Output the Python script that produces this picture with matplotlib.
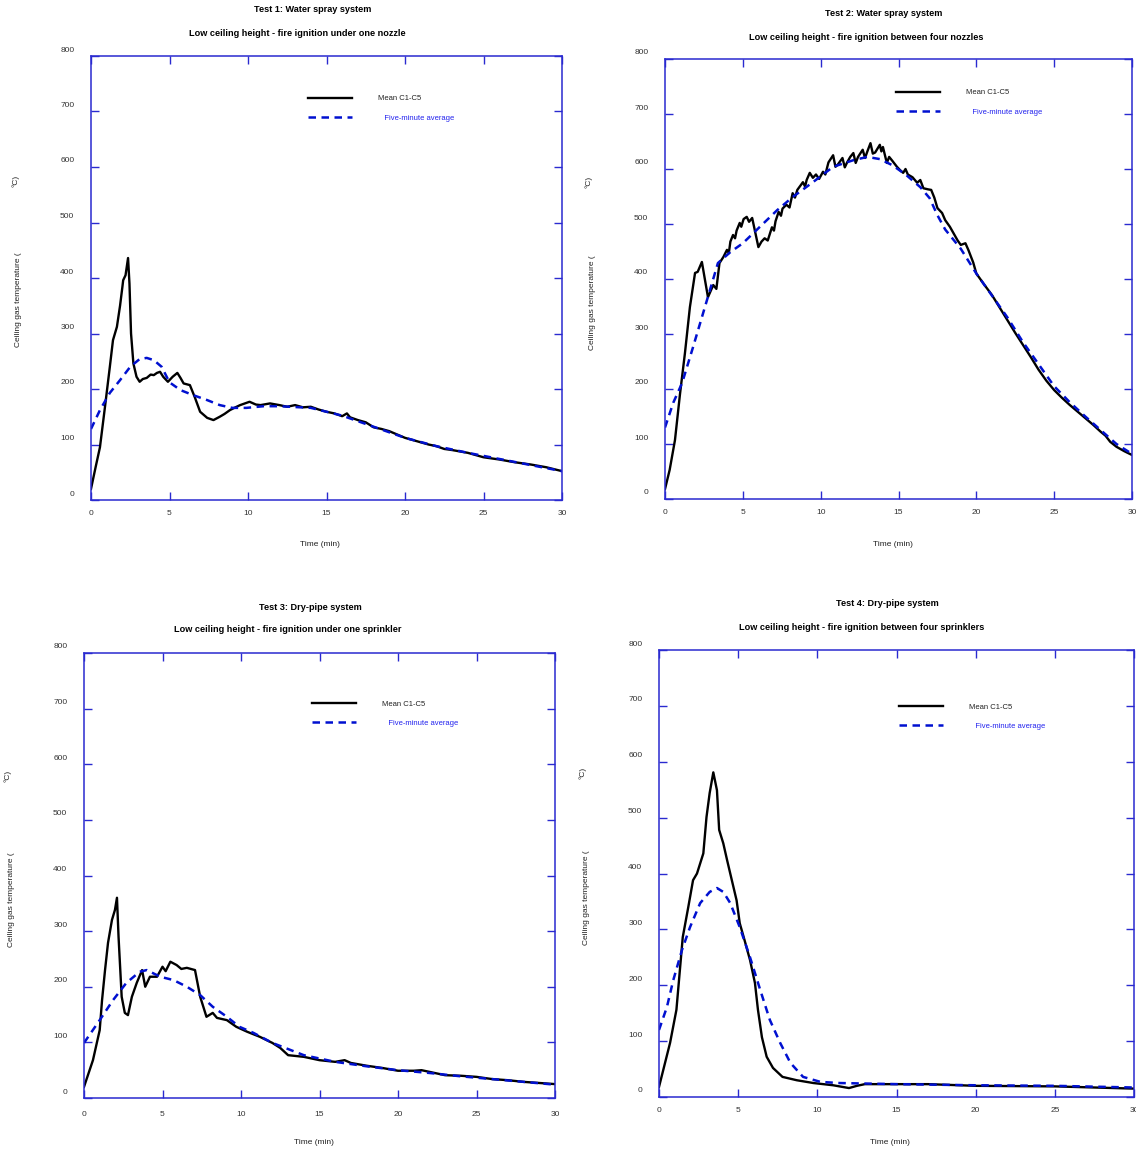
import matplotlib
matplotlib.use("Agg")
import matplotlib.pyplot as plt
from matplotlib.transforms import ScaledTranslation

plt.rcParams['font.family'] = ['Liberation Sans', 'DejaVu Sans']

# ---- Test 1: water spray, one nozzle ----
t1_mean = [0, 0.3, 0.57, 0.9, 1.2, 1.4, 1.65, 1.85, 2.0, 2.05, 2.2, 2.36, 2.45, 2.55, 2.7, 2.9, 3.1, 3.3,
           3.55, 3.8, 4.0, 4.2, 4.4, 4.6, 4.9, 5.2, 5.5, 5.7, 5.9, 6.3, 6.6, 6.95, 7.4, 7.8, 8.2, 8.5,
           8.85, 9.2, 9.5, 10.1, 10.5, 10.8, 11.4, 12.0, 12.5, 13.0, 13.5, 14.0, 14.5, 15.0, 15.5, 16.0,
           16.3, 16.5, 17.0, 17.5, 18.0, 18.5, 19.0, 19.5, 20.0, 20.5, 21.0, 21.5, 22.0, 22.5, 23.0, 24.0,
           25.0, 26.0, 27.0, 28.0, 29.0, 30.0]
T1_mean = [20, 60, 95, 170, 240, 288, 312, 350, 384, 396, 405, 436, 390, 300, 246, 222, 213, 218,
           220, 226, 225, 229, 231, 222, 213, 222, 229, 220, 210, 207, 186, 159, 148, 144, 150, 155,
           162, 167, 171, 177, 172, 171, 174, 171, 168, 171, 167, 168, 163, 159, 156, 151,
           156, 149, 144, 140, 131, 128, 124, 118, 112, 108, 104, 100, 97, 92, 90, 85,
           77, 73, 68, 64, 59, 52]
t1_avg = [0, 0.57, 1.2, 1.85, 2.5, 3.1, 3.55, 4.0, 4.5, 5.0, 5.7, 6.5, 7.4, 8.2, 9.0, 9.9, 11.0, 12.0,
          14.0, 16.0, 18.0, 20.0, 22.0, 24.0, 26.0, 28.0, 30.0]
T1_avg = [128, 162, 193, 216, 240, 254, 256, 252, 240, 212, 198, 189, 180, 171, 166, 166, 169, 169,
          166, 152, 132, 112, 97, 85, 74, 63, 52]

# ---- Test 2: water spray, between four nozzles ----
t2_mean = [0, 0.3, 0.64, 0.96, 1.28, 1.6, 1.93, 2.1, 2.37, 2.57, 2.76, 3.1, 3.3, 3.5, 3.75, 3.98, 4.1,
           4.2, 4.37, 4.5, 4.6, 4.8, 4.9, 5.05, 5.25, 5.4, 5.6, 6.0, 6.2, 6.4, 6.6, 6.87, 7.0, 7.1, 7.3,
           7.45, 7.55, 7.8, 8.0, 8.2, 8.35, 8.5, 8.86, 9.0, 9.1, 9.3, 9.5, 9.7, 9.9, 10.15, 10.3, 10.5,
           10.8, 10.95, 11.1, 11.4, 11.55, 11.7, 11.9, 12.1, 12.25, 12.4, 12.7, 12.85, 13.0, 13.2, 13.35,
           13.5, 13.8, 13.9, 14.0, 14.25, 14.4, 14.6, 14.9, 15.1, 15.3, 15.45, 15.6, 15.9, 16.2, 16.4,
           16.6, 16.9, 17.1, 17.3, 17.5, 17.8, 18.0, 18.3, 18.5, 18.8, 19.0, 19.3, 19.5, 19.8, 20.0,
           20.5, 21.0, 21.5, 22.0, 22.5, 23.0, 23.5, 24.0, 24.5, 25.0, 25.5, 26.0, 26.5, 27.0, 27.5,
           28.0, 28.3, 28.6, 29.0, 29.5, 30.0]
T2_mean = [18, 53, 107, 190, 265, 349, 411, 413, 431, 398, 367, 389, 382, 429, 440, 453, 447,
           468, 480, 474, 488, 502, 495, 509, 513, 504, 511, 458, 468, 474, 470, 494, 488, 505, 522,
           515, 528, 535, 530, 556, 548, 562, 576, 568, 580, 593, 584, 590, 582, 595, 590, 612,
           625, 604, 608, 620, 603, 612, 622, 629, 611, 622, 635, 620, 632, 647, 628,
           630, 644, 632, 640, 611, 622, 615, 604, 598, 593, 600, 590, 585, 575, 580,
           565, 563, 562, 548, 529, 520, 507, 495, 485, 470, 462, 465, 452, 430, 410,
           390, 371, 348, 325, 302, 280, 258, 235, 215, 198, 184, 171, 159, 147, 135,
           122, 115, 104, 95, 87, 80]
t2_avg = [0, 0.53, 1.1, 1.8, 2.7, 3.4, 4.2, 5.0, 6.1, 7.2, 8.2, 9.5, 10.8, 12.1, 13.0, 13.8, 14.6,
          15.5, 16.4, 17.0, 17.5, 18.0, 19.0, 20.0, 21.0, 22.0, 23.0, 24.0, 25.0, 26.0, 27.0, 28.0,
          29.0, 30.0]
T2_avg = [130, 175, 211, 276, 362, 429, 449, 465, 495, 525, 549, 576, 604, 616, 622, 618, 607,
          589, 567, 547, 516, 490, 455, 410, 370, 330, 285, 245, 205, 176, 150, 125, 100, 82]

# ---- Test 3: dry-pipe, one sprinkler ----
t3_mean = [0, 0.57, 1.0, 1.15, 1.34, 1.53, 1.78, 1.97, 2.1, 2.2, 2.4, 2.6, 2.8, 3.05, 3.36, 3.7, 3.9,
           4.2, 4.65, 5.0, 5.2, 5.5, 5.9, 6.2, 6.55, 7.07, 7.4, 7.8, 8.2, 8.47, 9.1, 9.7, 10.4, 11.2,
           12.0, 12.5, 13.0, 14.0, 15.0, 16.0, 16.6, 17.0, 18.0, 19.0, 20.0, 21.0, 21.5, 22.0, 23.0,
           24.0, 25.0, 26.0, 27.0, 28.0, 29.0, 30.0]
T3_mean = [20, 68, 122, 176, 230, 279, 320, 338, 360, 290, 182, 153, 149, 182, 207, 230, 200,
           218, 218, 236, 228, 245, 239, 232, 234, 230, 182, 146, 153, 144, 140, 128, 119, 110,
           99, 90, 77, 74, 68, 65, 68, 63, 58, 54, 49, 49, 50, 47, 41,
           40, 38, 34, 32, 29, 27, 25]
t3_avg = [0, 1.0, 1.85, 2.7, 3.55, 4.0, 4.85, 5.7, 6.55, 7.4, 8.2, 9.1, 9.9, 10.8, 12.0, 14.0, 16.0,
          18.0, 20.0, 22.0, 24.0, 26.0, 28.0, 30.0]
T3_avg = [99, 140, 176, 207, 227, 230, 218, 212, 200, 185, 164, 146, 128, 117, 99, 77, 65,
          57, 50, 45, 39, 34, 29, 24]

# ---- Test 4: dry-pipe, between four sprinklers ----
t4_mean = [0, 0.7, 1.1, 1.5, 1.85, 2.15, 2.4, 2.6, 2.8, 3.0, 3.2, 3.43, 3.66, 3.8, 4.06, 4.3, 4.6,
           4.9, 5.1, 5.4, 5.75, 6.06, 6.25, 6.5, 6.8, 7.2, 7.8, 8.7, 9.75, 11.0, 12.0, 12.5, 13.0, 15.0,
           17.0, 20.0, 25.0, 30.0]
T4_mean = [18, 97, 156, 286, 340, 388, 400, 418, 436, 501, 544, 581, 549, 478, 454, 424, 388,
           352, 311, 281, 245, 204, 156, 107, 72, 52, 36, 30, 25, 21, 16, 20, 23, 23,
           23, 20, 19, 15]
t4_avg = [0, 0.5, 0.9, 1.45, 1.96, 2.6, 3.2, 3.66, 4.06, 4.5, 5.1, 5.75, 6.4, 7.0, 7.65, 8.3, 9.1,
          10.2, 11.4, 15.0, 20.0, 25.0, 30.0]
T4_avg = [120, 161, 209, 263, 304, 347, 367, 374, 367, 347, 304, 250, 191, 138, 97, 61, 36,
          27, 25, 23, 21, 20, 17]

titles = [("Test 1: Water spray system", "Low ceiling height - fire ignition under one nozzle"),
          ("Test 2: Water spray system", "Low ceiling height - fire ignition between four nozzles"),
          ("Test 3: Dry-pipe system", "Low ceiling height - fire ignition under one sprinkler"),
          ("Test 4: Dry-pipe system", "Low ceiling height - fire ignition between four sprinklers")]
series = [(t1_mean, T1_mean, t1_avg, T1_avg), (t2_mean, T2_mean, t2_avg, T2_avg),
          (t3_mean, T3_mean, t3_avg, T3_avg), (t4_mean, T4_mean, t4_avg, T4_avg)]

W, H = 1136, 1153
# axes boxes in pixels: left, top, right, bottom
boxes = [(91, 56, 562, 500), (665, 59, 1132, 499), (84, 653, 555, 1098), (659, 650, 1134, 1097)]
title_pos = [(313, 10, 297, 34), (884, 14, 866, 38), (310, 608, 288, 630), (887, 604, 862, 627)]
xlab_pos = [(320, 545), (893, 545), (314, 1142), (890, 1142)]
ylab_pos = [(19, 300, 16, 181), (593, 303, 589, 182), (12, 900, 8, 776), (587, 898, 583, 773)]
leg_pos = [(0.461, 0.912), (0.495, 0.932), (0.484, 0.894), (0.505, 0.881)]
xpad = [7.5, 7.5, 9.5, 7]

frame = '#2a2ad0'
fig = plt.figure(figsize=(W / 100, H / 100), dpi=100)

for i in range(4):
    l, tp, r, b = boxes[i]
    ax = fig.add_axes([l / W, 1 - b / H, (r - l) / W, (b - tp) / H])
    tm, Tm, ta, Ta = series[i]
    h1, = ax.plot(tm, Tm, color='black', lw=1.7)
    h2, = ax.plot(ta, Ta, color='#0010d0', lw=1.8, ls=(0, (3, 2.2)))
    ax.set_xlim(0, 30)
    ax.set_ylim(0, 800)
    ax.set_xticks(range(0, 31, 5))
    ax.set_yticks(range(0, 801, 100))
    for s in ax.spines.values():
        s.set_color(frame)
        s.set_linewidth(1.1)
    ax.tick_params(direction='in', length=6, width=1, color=frame, top=True, right=True,
                   labelsize=6, labelcolor='#333333')
    ax.tick_params(axis='y', pad=12)
    ax.tick_params(axis='x', pad=xpad[i])
    for lab in ax.get_yticklabels():
        lab.set_transform(lab.get_transform() + ScaledTranslation(0, 0.07, fig.dpi_scale_trans))
    ax.legend([h1, h2], ['Mean C1-C5', '   Five-minute average'], loc='upper left',
              bbox_to_anchor=leg_pos[i], frameon=False, fontsize=5.5, handlelength=5.8,
              handletextpad=3.4, labelspacing=1.6, borderpad=0, borderaxespad=0,
              labelcolor=['#222222', '#2222ee'])
    x1, y1, x2, y2 = title_pos[i]
    fig.text(x1 / W, 1 - y1 / H, titles[i][0], ha='center', va='center', fontsize=6.6, fontweight='bold')
    fig.text(x2 / W, 1 - y2 / H, titles[i][1], ha='center', va='center', fontsize=6.6, fontweight='bold')
    fig.text(xlab_pos[i][0] / W, 1 - xlab_pos[i][1] / H, 'Time (min)', ha='center', va='center',
             fontsize=6, color='#222222')
    a, bb, c, d = ylab_pos[i]
    fig.text(a / W, 1 - bb / H, 'Ceiling gas temperature (', rotation=90, ha='center', va='center',
             fontsize=6, color='#222222')
    fig.text(c / W, 1 - d / H, '°C)', rotation=90, ha='center', va='center', fontsize=6,
             color='#222222')

fig.savefig('out.png', dpi=100)
